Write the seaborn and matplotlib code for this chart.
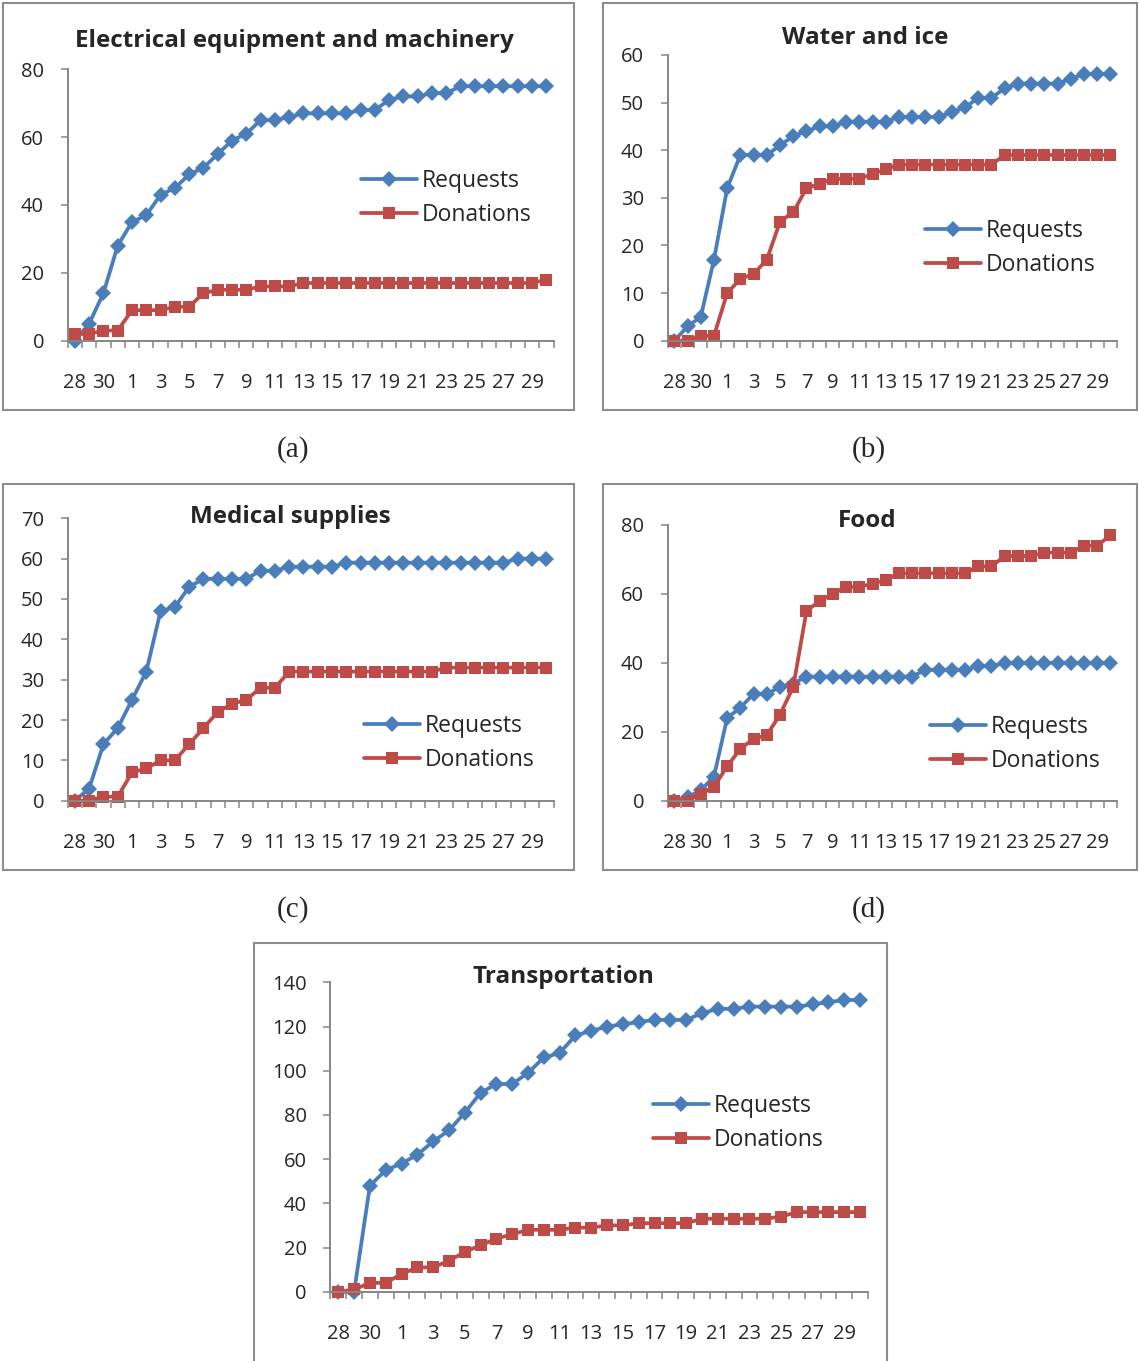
import matplotlib
matplotlib.use("Agg")
import matplotlib.pyplot as plt
from matplotlib.patches import Rectangle
import seaborn as sns
import numpy as np

# ------------------------------------------------------------------
# data: cumulative counts per day (Oct 28 .. Nov 30)
# ------------------------------------------------------------------
days = ['28', '29', '30', '31'] + [str(d) for d in range(1, 31)]

elec_req = [0, 5, 14, 28, 35, 37, 43, 45, 49, 51, 55, 59, 61, 65, 65, 66, 67,
            67, 67, 67, 68, 68, 71, 72, 72, 73, 73, 75, 75, 75, 75, 75, 75, 75]
elec_don = [2, 2, 3, 3, 9, 9, 9, 10, 10, 14, 15, 15, 15, 16, 16, 16, 17,
            17, 17, 17, 17, 17, 17, 17, 17, 17, 17, 17, 17, 17, 17, 17, 17, 18]

water_req = [0, 3, 5, 17, 32, 39, 39, 39, 41, 43, 44, 45, 45, 46, 46, 46, 46,
             47, 47, 47, 47, 48, 49, 51, 51, 53, 54, 54, 54, 54, 55, 56, 56, 56]
water_don = [0, 0, 1, 1, 10, 13, 14, 17, 25, 27, 32, 33, 34, 34, 34, 35, 36,
             37, 37, 37, 37, 37, 37, 37, 37, 39, 39, 39, 39, 39, 39, 39, 39, 39]

med_req = [0, 3, 14, 18, 25, 32, 47, 48, 53, 55, 55, 55, 55, 57, 57, 58, 58,
           58, 58, 59, 59, 59, 59, 59, 59, 59, 59, 59, 59, 59, 59, 60, 60, 60]
med_don = [0, 0, 1, 1, 7, 8, 10, 10, 14, 18, 22, 24, 25, 28, 28, 32, 32,
           32, 32, 32, 32, 32, 32, 32, 32, 32, 33, 33, 33, 33, 33, 33, 33, 33]

food_req = [0, 1, 3, 7, 24, 27, 31, 31, 33, 34, 36, 36, 36, 36, 36, 36, 36,
            36, 36, 38, 38, 38, 38, 39, 39, 40, 40, 40, 40, 40, 40, 40, 40, 40]
food_don = [0, 0, 2, 4, 10, 15, 18, 19, 25, 33, 55, 58, 60, 62, 62, 63, 64,
            66, 66, 66, 66, 66, 66, 68, 68, 71, 71, 71, 72, 72, 72, 74, 74, 77]

trans_req = [0, 0, 48, 55, 58, 62, 68, 73, 81, 90, 94, 94, 99, 106, 108, 116, 118,
             120, 121, 122, 123, 123, 123, 126, 128, 128, 129, 129, 129, 129, 130, 131, 132, 132]
trans_don = [0, 1, 4, 4, 8, 11, 11, 14, 18, 21, 24, 26, 28, 28, 28, 29, 29,
             30, 30, 31, 31, 31, 31, 33, 33, 33, 33, 33, 34, 36, 36, 36, 36, 36]

# ------------------------------------------------------------------
# style
# ------------------------------------------------------------------
sns.set_style("white")
plt.rcParams['font.family'] = ['Open Sans', 'DejaVu Sans']

W, H = 1139, 1361
BLUE = '#4A7EBB'
RED = '#BE4B48'
GRAY = '#868686'

fig = plt.figure(figsize=(W / 100, H / 100), dpi=100)


def px_rect(left, top, right, bottom):
    return [left / W, 1 - bottom / H, (right - left) / W, (bottom - top) / H]


def draw_panel(rect, title, title_xy, req, don, ymax, ystep, leg_xy):
    ax = fig.add_axes(px_rect(*rect))
    x = np.arange(len(days))
    sns.lineplot(x=x, y=req, ax=ax, color=BLUE, lw=2.7, marker='D',
                 markersize=7.8, markeredgewidth=0, clip_on=False)
    sns.lineplot(x=x, y=don, ax=ax, color=RED, lw=2.7, marker='s',
                 markersize=8.8, markeredgewidth=0, clip_on=False)

    ax.set_xlim(-0.5, len(days) - 0.5)
    ax.set_ylim(0, ymax)
    ax.set_yticks(np.arange(0, ymax + 1, ystep))
    ax.set_xticks(x[::2], days[::2])
    ax.set_xticks(np.arange(-0.5, len(days), 1), minor=True)

    for s in ['top', 'right']:
        ax.spines[s].set_visible(False)
    for s in ['left', 'bottom']:
        ax.spines[s].set_color(GRAY)
        ax.spines[s].set_linewidth(1.4)

    ax.tick_params(axis='y', which='major', length=5, width=1.1, color=GRAY,
                   pad=12, labelsize=14.5, direction='out', left=True)
    ax.tick_params(axis='x', which='major', length=0, pad=23, labelsize=14.5,
                   bottom=True)
    ax.tick_params(axis='x', which='minor', length=5, width=1.1, color=GRAY,
                   direction='out', bottom=True)
    ax.set_xlabel('')
    ax.set_ylabel('')

    ax.legend(ax.lines[:2], ['Requests', 'Donations'], loc='center left',
              bbox_to_anchor=(leg_xy[0] / W, 1 - leg_xy[1] / H),
              bbox_transform=fig.transFigure, frameon=False, fontsize=16.5,
              handlelength=2.45, handletextpad=0.2, borderpad=0,
              borderaxespad=0, labelspacing=0.4, numpoints=1)

    fig.text(title_xy[0] / W, 1 - title_xy[1] / H, title, ha='center',
             va='baseline', fontsize=17.5, fontweight='bold')
    return ax


# chart frames
frames = [(3, 3, 574, 410), (603, 3, 1137, 410), (3, 484, 574, 870),
          (603, 484, 1137, 870), (254, 943, 887, 1366)]
for l, t, r, b in frames:
    fig.patches.append(Rectangle((l / W, 1 - b / H), (r - l) / W, (b - t) / H,
                                 transform=fig.transFigure, fill=False,
                                 edgecolor='#8C8C8C', linewidth=1.5))

draw_panel((67.7, 69.3, 553.5, 340.7), 'Electrical equipment and machinery',
           (294.5, 46.7), elec_req, elec_don, 80, 20, (361, 198))
draw_panel((667.7, 55, 1117, 340.7), 'Water and ice',
           (865, 44.3), water_req, water_don, 60, 10, (925, 248))
draw_panel((67.7, 518.3, 553.5, 800.7), 'Medical supplies',
           (290, 523.3), med_req, med_don, 70, 10, (364, 743))
draw_panel((667.7, 525, 1117, 800.7), 'Food',
           (867, 526.7), food_req, food_don, 80, 20, (930, 744))
draw_panel((330.4, 982.3, 868, 1291.7), 'Transportation',
           (563, 982.7), trans_req, trans_don, 140, 20, (653, 1123))

# sub-figure captions
for lab, cx, cy in [('(a)', 293.5, 450), ('(b)', 869, 450),
                    ('(c)', 293, 910), ('(d)', 869, 910)]:
    fig.text(cx / W, 1 - cy / H, lab, ha='center', va='center', fontsize=21,
             family='Liberation Serif')

fig.savefig('out.png', dpi=100)
